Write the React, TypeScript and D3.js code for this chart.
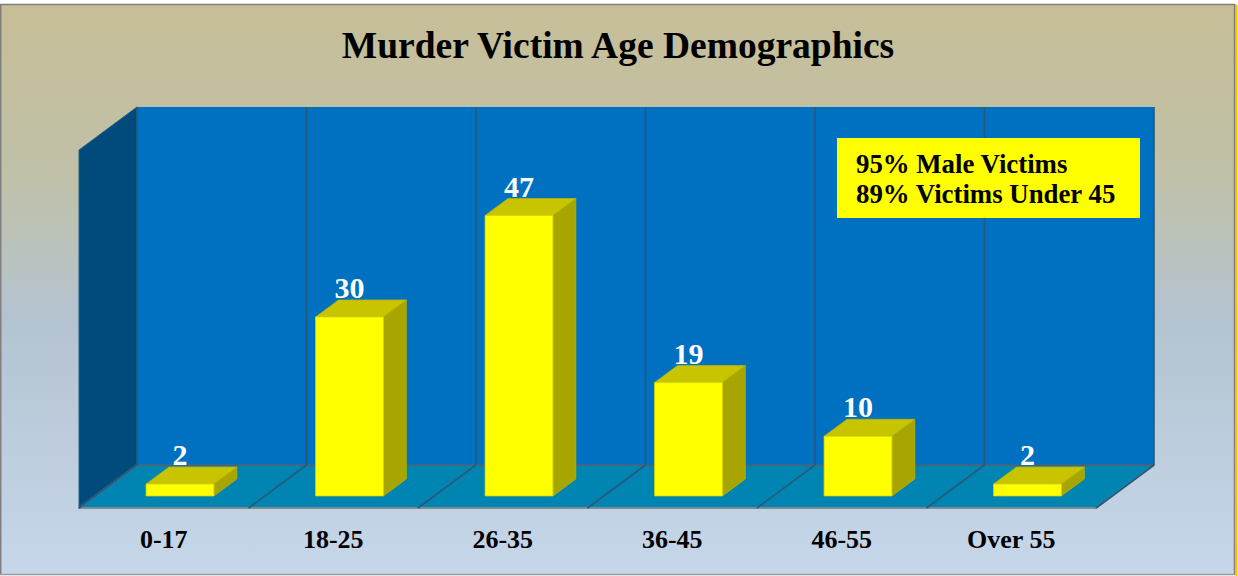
import React from "react";
import * as d3 from "d3";

const categories = ["0-17", "18-25", "26-35", "36-45", "46-55", "Over 55"];
const values = [2, 30, 47, 19, 10, 2];
const titleText = "Murder Victim Age Demographics";
const noteLines = ["95% Male Victims", "89% Victims Under 45"];
const yMax = 60;

const W = 1238;
const H = 576;
const DX = -58; // depth offset (back -> front)
const DY = 43;
const D_BACK = 0.325;
const D_FRONT = 0.72;

export default function App() {
  const x = d3.scaleBand<string>().domain(categories).range([137, 1154]).padding(0);
  const y = d3.scaleLinear().domain([0, yMax]).range([465, 107]);
  const bw = x.bandwidth();
  const proj = (px: number, v: number, d: number): [number, number] => [px + d * DX, y(v) + d * DY];
  const poly = (pts: [number, number][]) => d3.line()(pts as any) + "Z";

  const y0 = y(0);
  const yTop = y(yMax);
  const bounds = categories.map((c) => x(c) as number).concat([x.range()[1]]);

  const wallLeft = poly([
    [137, yTop],
    [137, y0],
    proj(137, 0, 1),
    proj(137, yMax, 1),
  ]);
  const floor = poly([
    [137, y0],
    [1154, y0],
    proj(1154, 0, 1),
    proj(137, 0, 1),
  ]);

  const serif = "'Liberation Serif', 'Times New Roman', serif";

  return (
    <div style={{ position: "fixed", left: 0, top: 0 }}>
      <svg width={W} height={H} style={{ display: "block" }}>
        <defs>
          <linearGradient id="bg" x1="0" y1="0" x2="0" y2="1">
            <stop offset="0" stopColor="#C7BE97" />
            <stop offset="0.3" stopColor="#C0C1A8" />
            <stop offset="0.55" stopColor="#B4C3D0" />
            <stop offset="1" stopColor="#C6D7EB" />
          </linearGradient>
        </defs>
        <rect x={0} y={4} width={1236} height={571} fill="url(#bg)" />
        <line x1={0.5} y1={4} x2={0.5} y2={575} stroke="#808080" strokeWidth={2} />
        <line x1={0} y1={4.5} x2={1235} y2={4.5} stroke="#808080" strokeWidth={1.5} />
        <line x1={0} y1={574.5} x2={1235} y2={574.5} stroke="#9A9A9A" strokeWidth={1.5} />
        <line x1={1234.5} y1={4} x2={1234.5} y2={575} stroke="#808080" strokeWidth={1.5} />
        <line x1={1236.5} y1={5} x2={1236.5} y2={576} stroke="#FFC000" strokeWidth={2} />

        <text x={618} y={58} textAnchor="middle" fontFamily={serif} fontWeight="bold" fontSize={37.5} fill="#000">
          {titleText}
        </text>

        {/* walls */}
        <rect x={137} y={yTop} width={1154 - 137} height={y0 - yTop} fill="#0070C0" />
        <path d={wallLeft} fill="#004A7C" />
        <path d={floor} fill="#0084B2" stroke="#7C8C96" strokeWidth={2} strokeLinejoin="round" />
        <path d={wallLeft} fill="none" stroke="#2B5F7E" strokeWidth={1} />

        {/* grid lines */}
        {bounds.map((b, i) => (
          <g key={i}>
            <line x1={b} y1={yTop} x2={b} y2={y0} stroke="#275A7A" strokeWidth={1.6} />
            <line x1={b} y1={y0} x2={proj(b, 0, 1)[0]} y2={proj(b, 0, 1)[1]} stroke="#275A7A" strokeWidth={1.6} />
          </g>
        ))}
        <line x1={137} y1={y0} x2={1154} y2={y0} stroke="#275A7A" strokeWidth={1.6} />

        {/* bars */}
        {categories.map((c, i) => {
          const v = values[i];
          const x0 = (x(c) as number) + bw * 0.3;
          const x1 = (x(c) as number) + bw * 0.7;
          const front = poly([proj(x0, v, D_FRONT), proj(x1, v, D_FRONT), proj(x1, 0, D_FRONT), proj(x0, 0, D_FRONT)]);
          const top = poly([proj(x0, v, D_FRONT), proj(x1, v, D_FRONT), proj(x1, v, D_BACK), proj(x0, v, D_BACK)]);
          const side = poly([proj(x1, v, D_FRONT), proj(x1, v, D_BACK), proj(x1, 0, D_BACK), proj(x1, 0, D_FRONT)]);
          const lx = (proj(x0, v, D_FRONT)[0] + proj(x1, v, D_FRONT)[0]) / 2;
          const ly = proj(x0, v, D_BACK)[1] - 2;
          return (
            <g key={c}>
              <path d={side} fill="#A8A400" stroke="#B8B400" strokeWidth={0.8} strokeLinejoin="round" />
              <path d={top} fill="#C8C400" stroke="#B8B400" strokeWidth={0.8} strokeLinejoin="round" />
              <path d={front} fill="#FFFF00" stroke="#D8D800" strokeWidth={0.8} strokeLinejoin="round" />
              <text x={lx} y={ly} textAnchor="middle" fontFamily={serif} fontWeight="bold" fontSize={30} fill="#FFFFFF">
                {v}
              </text>
            </g>
          );
        })}

        {/* category labels */}
        {categories.map((c) => {
          const cx = proj((x(c) as number) + bw / 2, 0, 1)[0];
          return (
            <text key={c} x={cx} y={548} textAnchor="middle" fontFamily={serif} fontWeight="bold" fontSize={26} fill="#000">
              {c}
            </text>
          );
        })}

        {/* note box */}
        <rect x={837} y={138} width={303} height={80} fill="#FFFF00" />
        {noteLines.map((t, i) => (
          <text key={i} x={856} y={173 + i * 30} fontFamily={serif} fontWeight="bold" fontSize={26.8} fill="#000">
            {t}
          </text>
        ))}
      </svg>
    </div>
  );
}
